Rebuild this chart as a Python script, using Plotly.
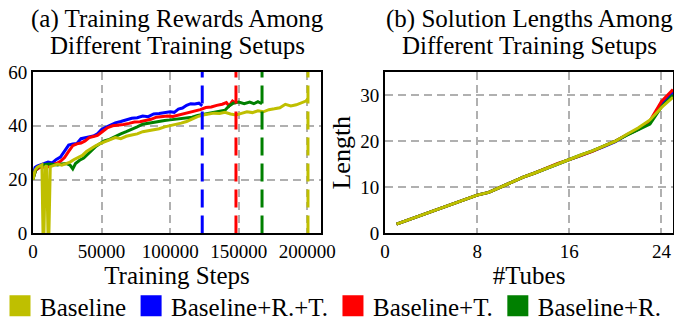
import plotly.graph_objects as go

# ---------------- data: (a) training rewards ----------------
steps_base = [0, 1500, 3000, 5000, 6500, 7300, 8000, 8900, 10000, 10900, 11600, 12600,
              15000, 18000, 21000, 24000, 27000, 30000, 33000, 36000, 39000, 42000, 45000,
              48000, 51000, 54000, 57000, 60000, 64000, 68000, 72000, 76000, 80000, 84000,
              88000, 92000, 96000, 100000, 104000, 108000, 112000, 116000, 120000, 124000,
              128000, 132000, 136000, 140000, 144000, 148000, 152000, 156000, 160000, 164000,
              168000, 172000, 176000, 180000, 184000, 188000, 192000, 196000, 199000, 200500]
reward_base = [20.0, 23.5, 24.5, 25.2, 25.5, 0.0, 0.0, 24.8, 25.2, 0.0, 0.0, 24.8,
               25.3, 25.8, 25.4, 26.0, 26.5, 27.5, 28.2, 29.0, 30.5, 31.6, 32.4,
               33.2, 33.8, 34.6, 35.0, 35.6, 35.2, 36.1, 36.6, 37.0, 37.8, 38.2,
               38.6, 38.9, 39.6, 40.0, 40.6, 41.0, 41.6, 42.6, 43.4, 44.0,
               44.4, 44.7, 44.6, 45.0, 44.4, 44.0, 44.6, 45.2, 44.9, 45.6,
               45.2, 46.0, 46.3, 46.7, 48.0, 47.4, 47.8, 48.5, 49.2, 50.0]

steps_rt = [0, 1500, 3000, 5000, 8000, 11000, 14000, 17000, 20000, 23000, 26000, 29000,
            32000, 35000, 38000, 41000, 44000, 47000, 50000, 53000, 56000, 60000, 64000,
            68000, 72000, 76000, 80000, 84000, 88000, 92000, 96000, 100000, 103000, 106000,
            109000, 112000, 115000, 118000, 121000, 123400]
reward_rt = [21.5, 24.5, 25.0, 25.4, 25.8, 26.5, 26.2, 27.5, 28.4, 30.6, 32.8, 33.2,
             33.4, 35.2, 35.6, 35.9, 36.2, 37.0, 38.6, 39.4, 40.2, 41.1, 41.6,
             42.3, 42.8, 43.0, 43.6, 43.4, 44.4, 44.6, 44.8, 45.2, 45.0, 46.2,
             46.6, 47.6, 48.2, 48.1, 48.4, 47.4]

steps_t = [0, 2000, 4000, 6000, 8000, 11000, 14000, 17000, 20000, 23000, 26000, 29000,
           32000, 35000, 38000, 41000, 44000, 47000, 50000, 54000, 58000, 62000, 66000,
           70000, 74000, 78000, 82000, 86000, 90000, 94000, 98000, 102000, 106000, 110000,
           114000, 118000, 122000, 126000, 130000, 134000, 138000, 141000, 143000, 145500,
           148000]
reward_t = [20.5, 23.5, 24.2, 24.8, 24.6, 24.8, 25.6, 26.0, 26.8, 28.2, 30.5, 32.6,
            33.3, 33.6, 34.4, 35.6, 36.0, 36.4, 37.6, 39.2, 40.0, 40.2, 40.5,
            40.9, 41.4, 41.5, 42.0, 42.4, 43.2, 43.4, 43.6, 43.5, 44.0, 44.6,
            45.0, 45.6, 46.0, 46.8, 47.0, 47.6, 48.0, 48.6, 47.4, 49.2, 48.4]

steps_r = [0, 2000, 4000, 6000, 9000, 12000, 15000, 18000, 21000, 24000, 27000, 29000,
           31000, 34000, 37000, 40000, 43000, 46000, 49000, 52000, 55000, 58000, 61000,
           64000, 68000, 72000, 76000, 80000, 84000, 88000, 92000, 96000, 100000, 104000,
           108000, 112000, 116000, 120000, 124000, 128000, 132000, 136000, 140000, 143000,
           146000, 150000, 154000, 158000, 161000, 164000, 167000]
reward_r = [20.0, 23.6, 24.8, 25.2, 25.6, 25.8, 25.6, 25.4, 25.8, 26.0, 25.4, 24.0,
            26.0, 27.2, 28.0, 29.6, 30.8, 32.4, 33.4, 34.4, 34.8, 35.6, 36.4,
            37.0, 37.8, 38.6, 39.6, 40.6, 41.0, 41.2, 41.6, 42.0, 42.2, 42.4,
            42.6, 42.8, 43.2, 43.8, 44.2, 44.6, 45.0, 45.4, 45.8, 47.4,
            48.4, 48.8, 48.2, 48.8, 48.2, 49.0, 48.2]

# end of each run (dashed verticals): Baseline+R.+T., Baseline+T., Baseline+R., Baseline
end_steps = [123400, 148000, 167000, 200500]

# ---------------- data: (b) solution lengths ----------------
tubes = list(range(1, 26))
len_base = [2.0, 2.9, 3.8, 4.7, 5.5, 6.4, 7.3, 8.3, 8.9, 10.0, 11.2, 12.2, 13.1, 14.1,
            15.0, 16.0, 17.0, 17.9, 18.9, 20.0, 21.5, 22.9, 24.6, 27.3, 29.5]
len_rt = [2.0, 2.9, 3.8, 4.7, 5.5, 6.4, 7.3, 8.3, 8.9, 10.0, 11.2, 12.2, 13.1, 14.1,
          15.1, 16.0, 16.9, 17.8, 18.8, 19.9, 21.4, 22.6, 24.2, 28.0, 30.6]
len_t = [2.0, 2.9, 3.8, 4.7, 5.5, 6.4, 7.3, 8.3, 8.9, 10.0, 11.2, 12.2, 13.1, 14.2,
         15.2, 16.0, 16.9, 17.8, 18.9, 20.0, 21.4, 22.6, 24.4, 28.6, 31.2]
len_r = [2.0, 2.9, 3.8, 4.7, 5.5, 6.4, 7.3, 8.3, 8.9, 10.0, 11.2, 12.2, 13.1, 14.1,
         15.0, 16.1, 17.0, 17.9, 18.9, 20.0, 21.3, 22.5, 23.7, 27.4, 30.0]

names = ["Baseline", "Baseline+R.+T.", "Baseline+T.", "Baseline+R."]
colors = ["#bfbf00", "#0000ff", "#ff0000", "#008000"]

FONT = "Liberation Serif"
LW = 3

fig = go.Figure()

# (a) curves: draw blue, red, green, then yellow on top
series_a = [(steps_rt, reward_rt, 1), (steps_t, reward_t, 2), (steps_r, reward_r, 3),
            (steps_base, reward_base, 0)]
for xs, ys, ci in series_a:
    fig.add_trace(go.Scatter(x=xs, y=ys, mode="lines", line=dict(color=colors[ci], width=LW),
                             showlegend=False, xaxis="x", yaxis="y"))

# dashed verticals at end of each run
end_colors = [colors[1], colors[2], colors[3], colors[0]]
for s, c in zip(end_steps, end_colors):
    fig.add_trace(go.Scatter(x=[s, s], y=[0, 60], mode="lines",
                             line=dict(color=c, width=LW, dash="18px,8px"),
                             showlegend=False, xaxis="x", yaxis="y"))

# (b) curves
series_b = [(len_rt, 1), (len_t, 2), (len_r, 3), (len_base, 0)]
for ys, ci in series_b:
    fig.add_trace(go.Scatter(x=tubes, y=ys, mode="lines", line=dict(color=colors[ci], width=LW),
                             showlegend=False, xaxis="x2", yaxis="y2"))

# legend entries (square swatches)
for n, c in zip(names, colors):
    fig.add_trace(go.Scatter(x=[None], y=[None], mode="markers", name=n,
                             marker=dict(symbol="square", size=16, color=c,
                                         line=dict(color=c, width=5)),
                             xaxis="x", yaxis="y"))

W, H = 674, 329
ydom = [1 - 240 / H, 1 - 74 / H]
grid = dict(showgrid=True, gridcolor="#b0b0b0", gridwidth=1.5, griddash="8px,5px",
            zeroline=False, showline=True, mirror=True, linecolor="black", linewidth=2,
            ticks="", tickfont=dict(family=FONT, size=19, color="black"))

fig.update_layout(
    width=W, height=H, margin=dict(l=0, r=0, t=0, b=0),
    paper_bgcolor="white", plot_bgcolor="white",
    font=dict(family=FONT, color="black"),
    xaxis=dict(domain=[33 / W, 321 / W], range=[0, 210000], tickvals=[0, 50000, 100000, 150000, 200000],
               ticktext=["0", "50000", "100000", "150000", "200000"],
               title=dict(text="Training Steps", font=dict(family=FONT, size=25), standoff=4),
               anchor="y", automargin=False, **grid),
    yaxis=dict(domain=ydom, range=[0, 60], tickvals=[0, 20, 40, 60], anchor="x",
               automargin=False, **grid),
    xaxis2=dict(domain=[385 / W, 673 / W], range=[0, 25], tickvals=[0, 8, 16, 24],
                title=dict(text="#Tubes", font=dict(family=FONT, size=25), standoff=4),
                anchor="y2", automargin=False, **grid),
    yaxis2=dict(domain=ydom, range=[0, 35], tickvals=[0, 10, 20, 30], anchor="x2",
                title=dict(text="Length", font=dict(family=FONT, size=26), standoff=2),
                automargin=False, **grid),
    legend=dict(orientation="h", x=0, xanchor="left", y=1 - 315 / H, yanchor="middle",
                font=dict(family=FONT, size=25, color="black"), itemwidth=30,
                bgcolor="rgba(0,0,0,0)"),
)

title_font = dict(family=FONT, size=25, color="black")
titles = [((33 + 321) / 2 / W, "(a) Training Rewards Among", "Different Training Setups"),
          ((385 + 673) / 2 / W, "(b) Solution Lengths Among", "Different Training Setups")]
for xc, l1, l2 in titles:
    fig.add_annotation(x=xc, y=1 - 20 / H, xref="paper", yref="paper", text=l1, showarrow=False,
                       xanchor="center", yanchor="middle", font=title_font)
    fig.add_annotation(x=xc, y=1 - 47 / H, xref="paper", yref="paper", text=l2, showarrow=False,
                       xanchor="center", yanchor="middle", font=title_font)

fig.write_html("out.html")
